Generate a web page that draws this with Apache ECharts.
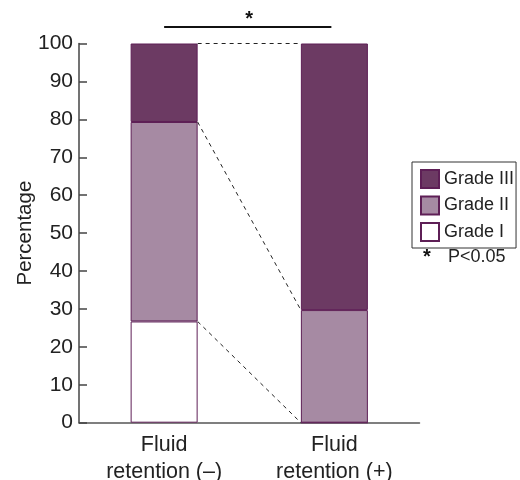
<!DOCTYPE html>
<html>
<head>
<meta charset="utf-8">
<script src="https://cdn.jsdelivr.net/npm/echarts@6/dist/echarts.min.js"></script>
<style>html,body{margin:0;padding:0;background:#fff}#c{width:520px;height:480px}</style>
</head>
<body>
<div id="c"></div>
<script>
var categories = ['Fluid\nretention (\u2013)', 'Fluid\nretention (+)'];
var gradeI = [26.7, 0];
var gradeII = [52.6, 29.7];
var gradeIII = [20.7, 70.3];
var yTicks = [0, 10, 20, 30, 40, 50, 60, 70, 80, 90, 100];

var FONT = '"Liberation Sans", Arial, sans-serif';
var BAR_W = 67;
var BORDER = '#5e1f56';

// cumulative tops for connector lines
function cum(i) {
  return [gradeI[i], gradeI[i] + gradeII[i], gradeI[i] + gradeII[i] + gradeIII[i]];
}
var leftTops = cum(0), rightTops = cum(1);
var connectorData = leftTops.map(function (v, k) { return [0, v, rightTops[k]]; });

var chart = echarts.init(document.getElementById('c'), null, {renderer: 'canvas'});
chart.setOption({
  animation: false,
  textStyle: {fontFamily: FONT},
  grid: {left: 79, right: 100.5, top: 43.5, bottom: 57.3, containLabel: false, outerBoundsMode: 'none'},
  legend: {
    orient: 'vertical', left: 412, top: 162,
    padding: [7, 2, 6, 8],
    itemWidth: 18, itemHeight: 18, itemGap: 6.5,
    borderColor: '#333', borderWidth: 1,
    icon: 'rect',
    data: ['Grade III', 'Grade II', 'Grade I'],
    textStyle: {fontSize: 18, color: '#222', fontFamily: FONT}
  },
  graphic: [{
    type: 'text', left: 423, top: 247,
    style: {text: '*', fontSize: 20, fontWeight: 'bold', fill: '#111', fontFamily: FONT}
  }, {
    type: 'text', left: 448, top: 248,
    style: {text: 'P<0.05', fontSize: 18, fill: '#222', fontFamily: FONT}
  }],
  xAxis: {
    type: 'category', data: categories,
    axisTick: {show: false},
    axisLine: {lineStyle: {color: '#555', width: 1.5}},
    axisLabel: {fontSize: 21.5, color: '#222', lineHeight: 27, margin: 9, fontFamily: FONT}
  },
  yAxis: {
    type: 'value', min: 0, max: 100, interval: 10,
    name: 'Percentage', nameLocation: 'middle', nameGap: 43, nameMoveOverlap: false,
    nameTextStyle: {fontSize: 20.5, color: '#222', fontFamily: FONT},
    axisLine: {show: true, lineStyle: {color: '#444', width: 1.5}},
    axisTick: {show: true, inside: true, length: 8, lineStyle: {color: '#444', width: 1.5}},
    axisLabel: {fontSize: 21, color: '#222', margin: 6, fontFamily: FONT,
      formatter: function (v) { return yTicks.indexOf(v) >= 0 ? String(v) : ''; }},
    splitLine: {show: false}
  },
  series: [{
    name: 'Grade I', type: 'bar', stack: 's', barWidth: BAR_W, data: gradeI,
    itemStyle: {color: '#ffffff', borderColor: BORDER, borderWidth: 1}
  }, {
    name: 'Grade II', type: 'bar', stack: 's', barWidth: BAR_W, data: gradeII,
    itemStyle: {color: '#a68aa3', borderColor: BORDER, borderWidth: 1}
  }, {
    name: 'Grade III', type: 'bar', stack: 's', barWidth: BAR_W, data: gradeIII,
    itemStyle: {color: '#6c3a63', borderColor: BORDER, borderWidth: 1}
  }, {
    type: 'custom', clip: false, silent: true, z: 5,
    dimensions: ['c', 'a', 'b'], encode: {x: 0, y: [1, 2]},
    data: connectorData,
    renderItem: function (params, api) {
      var p0 = api.coord([0, api.value(1)]);
      var p1 = api.coord([1, api.value(2)]);
      return {
        type: 'line',
        shape: {x1: p0[0] + BAR_W / 2, y1: p0[1], x2: p1[0] - BAR_W / 2, y2: p1[1]},
        style: {stroke: '#222', lineWidth: 1, lineDash: [4, 4]}
      };
    }
  }, {
    type: 'custom', clip: false, silent: true, z: 5,
    dimensions: ['c', 'v'], encode: {x: 0, y: 1},
    data: [[0, 100]],
    renderItem: function (params, api) {
      var p0 = api.coord([0, api.value(1)]);
      var p1 = api.coord([1, api.value(1)]);
      var y = p0[1] - 16.5;
      return {
        type: 'group',
        children: [{
          type: 'line',
          shape: {x1: p0[0], y1: y, x2: p1[0] - 3, y2: y},
          style: {stroke: '#111', lineWidth: 2}
        }, {
          type: 'text',
          x: (p0[0] + p1[0]) / 2, y: y + 2,
          style: {text: '*', fontSize: 20, fontWeight: 'bold', fill: '#111',
            align: 'center', verticalAlign: 'bottom', fontFamily: FONT}
        }]
      };
    }
  }]
});
</script>
</body>
</html>
